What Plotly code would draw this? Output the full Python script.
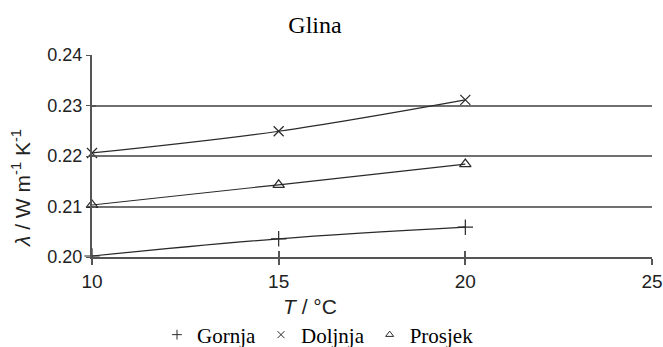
import plotly.graph_objects as go

temps = [10, 15, 20]
gornja = [0.2002, 0.2036, 0.2059]
doljnja = [0.2206, 0.2249, 0.2311]
prosjek = [0.2103, 0.2143, 0.2184]
x_ticks = [10, 15, 20, 25]
y_ticks = [0.20, 0.21, 0.22, 0.23, 0.24]

line_col = "#2a2a2a"
axis_col = "#555555"
fig = go.Figure()
series = [("Gornja", gornja, "cross-thin-open", 11),
          ("Doljnja", doljnja, "x-thin-open", 10),
          ("Prosjek", prosjek, "triangle-up-open", 10)]
for name, vals, sym, sz in series:
    fig.add_trace(go.Scatter(x=temps, y=vals, mode="lines+markers", line=dict(color=line_col, width=1.2, shape="spline"),
                             marker=dict(symbol=sym, size=sz, color=line_col, line=dict(color=line_col, width=1.2)),
                             showlegend=False, cliponaxis=False))
    fig.add_trace(go.Scatter(x=[None], y=[None], mode="markers", name=name,
                             marker=dict(symbol=sym, size=7, color=line_col, line=dict(color=line_col, width=1))))

# overlay axes for inside half of crossing ticks
fig.add_trace(go.Scatter(x=[None], y=[None], xaxis="x2", yaxis="y2", showlegend=False))

W, H = 663, 347
L, R, T, B = 92, 11, 55, 90
pw, ph = W - L - R, H - T - B

def px(xp):
    return (xp - L) / pw

def py(yp):
    return (H - B - yp) / ph

fig.update_layout(
    width=W, height=H,
    margin=dict(l=L, r=R, t=T, b=B, autoexpand=False),
    paper_bgcolor="white", plot_bgcolor="white",
    title=dict(text="Glina", x=315 / W, xanchor="center", y=1 - 25 / H, yanchor="middle",
               font=dict(family="Liberation Serif", size=24, color="black")),
    font=dict(family="Liberation Sans", color="#222"),
    xaxis=dict(range=[10, 25], tickvals=x_ticks, showgrid=False, showline=True, linecolor=axis_col, linewidth=2,
               ticks="outside", ticklen=6, tickcolor=axis_col, tickwidth=1.5, tickfont=dict(size=19),
               zeroline=False, automargin=False),
    yaxis=dict(range=[0.20, 0.24], tickvals=y_ticks, tickformat=".2f", showgrid=True, gridcolor="#707070", gridwidth=2,
               showline=True, linecolor=axis_col, linewidth=2, ticks="outside", ticklen=4, tickcolor=axis_col,
               tickfont=dict(size=18), zeroline=False, automargin=False),
    xaxis2=dict(overlaying="x", range=[10, 25], tickvals=x_ticks, showticklabels=False, ticks="inside", ticklen=6,
                tickcolor=axis_col, tickwidth=1.5, showgrid=False, zeroline=False, side="bottom"),
    yaxis2=dict(overlaying="y", range=[0.20, 0.24], tickvals=y_ticks, showticklabels=False, ticks="inside", ticklen=4,
                tickcolor=axis_col, tickwidth=1.5, showgrid=False, zeroline=False, side="left"),
    legend=dict(orientation="h", x=157 / W, xref="container", xanchor="left", y=(H - 335) / H, yref="container",
                yanchor="middle", font=dict(family="Liberation Serif", size=21, color="black"),
                itemwidth=30, tracegroupgap=0),
    annotations=[
        dict(text="<i>T</i> / °C", x=px(310), y=py(306), xref="paper", yref="paper", showarrow=False,
             font=dict(size=21, family="Liberation Sans", color="#222"), xanchor="center", yanchor="middle"),
        dict(text="<i>λ</i> / W m<sup>-1</sup> K<sup>-1</sup>", x=px(21), y=py(188), xref="paper", yref="paper",
             showarrow=False, textangle=-90, font=dict(size=21, family="Liberation Sans", color="#222"),
             xanchor="center", yanchor="middle"),
    ],
)
fig.write_html("out.html", config={"displayModeBar": False},
               post_script="document.body.style.margin='0';document.body.style.overflow='hidden';")
